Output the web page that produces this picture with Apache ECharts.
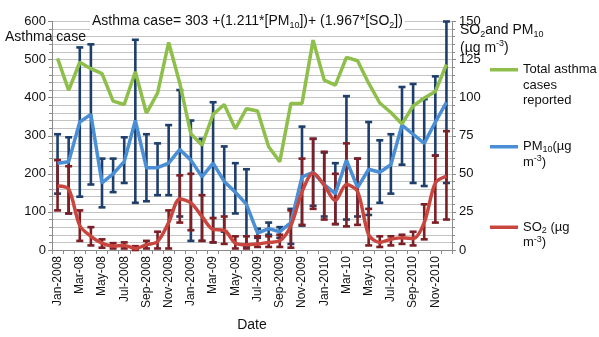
<!DOCTYPE html>
<html>
<head>
<meta charset="utf-8">
<script src="https://cdn.jsdelivr.net/npm/echarts@6/dist/echarts.min.js"></script>
<style>
html,body{margin:0;padding:0;background:#fff;}
#chart{width:599px;height:337px;}
</style>
</head>
<body>
<div id="chart"></div>
<script>
var months = ['Jan-2008','Feb-08','Mar-08','Apr-08','May-08','Jun-08','Jul-2008','Aug-08','Sep-2008','Oct-08','Nov-2008','Dec-08',
  'Jan-2009','Feb-09','Mar-09','Apr-09','May-09','Jun-09','Jul-2009','Aug-09','Sep-2009','Oct-09','Nov-2009','Dec-09',
  'Jan-2010','Feb-10','Mar-10','Apr-10','May-10','Jun-10','Jul-2010','Aug-10','Sep-2010','Oct-10','Nov-2010','Dec-10'];

var asthma = [503, 419, 493, 476, 463, 391, 382, 468, 359, 412, 545, 438,
  305, 275, 356, 382, 318, 371, 365, 271, 232, 385, 385, 551,
  446, 433, 506, 497, 438, 386, 361, 331, 378, 399, 416, 487];

var pm10 = [57, 58, 84, 89, 44, 50, 58, 85, 54, 54, 57, 66,
  59, 48, 57, 45, 38, 30, 11, 14, 12, 18, 48, 51,
  43, 37, 59, 41, 53, 51, 56, 82, 76, 70, 84, 97];
var pm10High = [76, 74, 133, 135, 60, 60, 74, 138, 76, 70, 82, 105,
  85, 73, 97, 68, 57, 53, 14, 18, 15, 27, 81, 73,
  64, 57, 101, 60, 84, 72, 76, 107, 109, 99, 114, 150];
var pm10Low = [37, 24, 35, 43, 28, 38, 44, 31, 32, 36, 36, 22,
  6, 6, 5, 12, 24, 2, 8, 10, 8, 4, 16, 29,
  22, 17, 20, 22, 23, 31, 37, 56, 44, 42, 62, 44];

var so2 = [42, 40, 16, 9, 4.5, 2.6, 3, 1, 3.5, 5.5, 18, 33.5,
  31, 22, 13.5, 13, 4.5, 3.5, 4, 5, 6, 16, 38, 50.5,
  42.5, 32.5, 43, 38.5, 10, 5, 7, 8, 7.5, 18, 44, 48.5];
var so2High = [59, 55, 26, 15, 7, 4.5, 5, 2.5, 6, 12, 26, 49,
  50, 36, 21, 22, 9, 9, 9, 9, 10, 26, 60, 73,
  64.5, 50, 70, 60, 27, 9, 9, 10, 12, 30, 62, 78];
var so2Low = [26, 24, 6, 3, 1.5, 1, 1, 0, 1, 1, 1, 18,
  13, 6, 5, 4, 1, 1, 2, 2, 2, 1.5, 16.5, 27,
  20, 17, 15.5, 16.5, 3, 2, 3, 4, 3, 7, 18, 20];

var leftTicks = {min: 0, max: 600, interval: 100};
var rightTicks = {min: 0, max: 150, interval: 25};

var FONT = 'Liberation Sans, Arial, Helvetica, sans-serif';
var GREEN = '#8DBF4A', BLUE = '#4A8FD6', RED = '#C9463F', NAVY = '#1E3F6B', DRED = '#7D1F25';

function errData(lo, hi) {
  return months.map(function (m, i) { return [i, lo[i], hi[i]]; });
}
function errRender(color) {
  return function (params, api) {
    var x = api.value(0);
    var lo = api.coord([x, api.value(1)]);
    var hi = api.coord([x, api.value(2)]);
    var w = 3.5;
    var st = {stroke: color, lineWidth: 2.6};
    return {type: 'group', children: [
      {type: 'line', shape: {x1: hi[0], y1: hi[1], x2: lo[0], y2: lo[1]}, style: st},
      {type: 'line', shape: {x1: hi[0] - w, y1: hi[1], x2: hi[0] + w, y2: hi[1]}, style: st},
      {type: 'line', shape: {x1: lo[0] - w, y1: lo[1], x2: lo[0] + w, y2: lo[1]}, style: st}
    ]};
  };
}

function richSet(size, lh) {
  return {
    n: {fontSize: size, lineHeight: lh, color: '#111', fontFamily: FONT, fontWeight: 'normal'},
    s: {fontSize: 9, lineHeight: 10, verticalAlign: 'bottom', color: '#111', fontFamily: FONT, fontWeight: 'normal'},
    u: {fontSize: 9, lineHeight: 10, verticalAlign: 'top', color: '#111', fontFamily: FONT, fontWeight: 'normal'}
  };
}
var richBig = richSet(14, 18);
var LH = 15.5;
var richLeg = richSet(13, LH);

var legendText = {
  'Total asthma cases reported': '{n| }\n{n| }\n{n|Total asthma}\n{n|cases}\n{n|reported}',
  'PM10 (µg m-3)': '{n| }\n{n|PM}{s|10}{n|(µg}\n{n|m}{u|-3}{n|)}',
  'SO2 (µg m-3)': '{n| }\n{n|SO}{s|2}{n| (µg}\n{n|m}{u|-3}{n|)}'
};
function mkLegend(name, lines, centerY) {
  return {
    data: [name], orient: 'vertical', left: 490,
    top: centerY - (2 * lines - 1) * LH / 2, padding: 0,
    icon: 'rect', itemWidth: 28, itemHeight: 3.5, selectedMode: false,
    formatter: function (n) { return legendText[n]; },
    textStyle: {rich: richLeg, fontFamily: FONT, fontSize: 13, fontWeight: 'normal'}
  };
}

var chart = echarts.init(document.getElementById('chart'), null, {renderer: 'canvas'});
chart.setOption({
  animation: false,
  backgroundColor: '#fff',
  textStyle: {fontFamily: FONT},
  title: [
    {text: '{n|Asthma case= 303 +(1.211*[PM}{s|10}{n|])+ (1.967*[SO}{s|2}{n|])}',
     left: 90, top: 12, padding: [0, 2], backgroundColor: '#fff',
     textStyle: {rich: richBig, fontWeight: 'normal'}},
    {text: 'Asthma case', left: 5, top: 30, padding: 0,
     textStyle: {fontSize: 14, fontWeight: 'normal', color: '#111', fontFamily: FONT}},
    {text: '{n|SO}{s|2}{n|and PM}{s|10}\n{n|(µg m}{u|-3}{n|)}', left: 460, top: 21, padding: 0,
     textStyle: {rich: richBig, fontWeight: 'normal'}}
  ],
  legend: [
    mkLegend('Total asthma cases reported', 3, 71),
    mkLegend('PM10 (µg m-3)', 2, 148),
    mkLegend('SO2 (µg m-3)', 2, 228.5)
  ],
  grid: {left: 52, right: 147, top: 21.5, bottom: 81},
  xAxis: {
    type: 'category', data: months, boundaryGap: true,
    axisLine: {lineStyle: {color: '#8a8a8a', width: 1}},
    axisTick: {show: true, interval: 0, length: 4, lineStyle: {color: '#8a8a8a'}},
    axisLabel: {interval: 1, rotate: 90, fontSize: 12, color: '#111', margin: 6, fontFamily: FONT},
    splitLine: {show: false},
    name: 'Date', nameLocation: 'middle', nameGap: 68,
    nameTextStyle: {fontSize: 14, color: '#111', fontFamily: FONT}
  },
  yAxis: [
    {type: 'value', min: leftTicks.min, max: leftTicks.max, interval: leftTicks.interval,
     axisLine: {show: true, lineStyle: {color: '#8a8a8a'}},
     axisTick: {show: true, length: 4, lineStyle: {color: '#8a8a8a'}},
     minorTick: {show: true, splitNumber: 5, length: 3, lineStyle: {color: '#8a8a8a'}},
     axisLabel: {fontSize: 13, color: '#111', margin: 6, fontFamily: FONT},
     splitLine: {show: true, lineStyle: {color: '#c4c4c4', width: 1}},
     minorSplitLine: {show: true, lineStyle: {color: '#c4c4c4', width: 1}}},
    {type: 'value', min: rightTicks.min, max: rightTicks.max, interval: rightTicks.interval, position: 'right',
     axisLine: {show: true, lineStyle: {color: '#8a8a8a'}},
     axisTick: {show: true, length: 4, lineStyle: {color: '#8a8a8a'}},
     minorTick: {show: true, splitNumber: 5, length: 3, lineStyle: {color: '#8a8a8a'}},
     axisLabel: {fontSize: 13, color: '#111', margin: 7, fontFamily: FONT},
     splitLine: {show: false}}
  ],
  series: [
    {name: 'PM10 err', type: 'custom', yAxisIndex: 1, z: 2, renderItem: errRender(NAVY),
     encode: {x: 0, y: [1, 2]}, data: errData(pm10Low, pm10High), clip: false},
    {name: 'SO2 err', type: 'custom', yAxisIndex: 1, z: 3, renderItem: errRender(DRED),
     encode: {x: 0, y: [1, 2]}, data: errData(so2Low, so2High), clip: false},
    {name: 'PM10 (µg m-3)', type: 'line', yAxisIndex: 1, z: 4, data: pm10, symbol: 'none',
     lineStyle: {color: BLUE, width: 3.5}, itemStyle: {color: BLUE}},
    {name: 'SO2 (µg m-3)', type: 'line', yAxisIndex: 1, z: 5, data: so2, symbol: 'none', smooth: 0.3,
     lineStyle: {color: RED, width: 3.5}, itemStyle: {color: RED}},
    {name: 'Total asthma cases reported', type: 'line', yAxisIndex: 0, z: 6, data: asthma, symbol: 'none',
     lineStyle: {color: GREEN, width: 3.5}, itemStyle: {color: GREEN}}
  ]
});
</script>
</body>
</html>
